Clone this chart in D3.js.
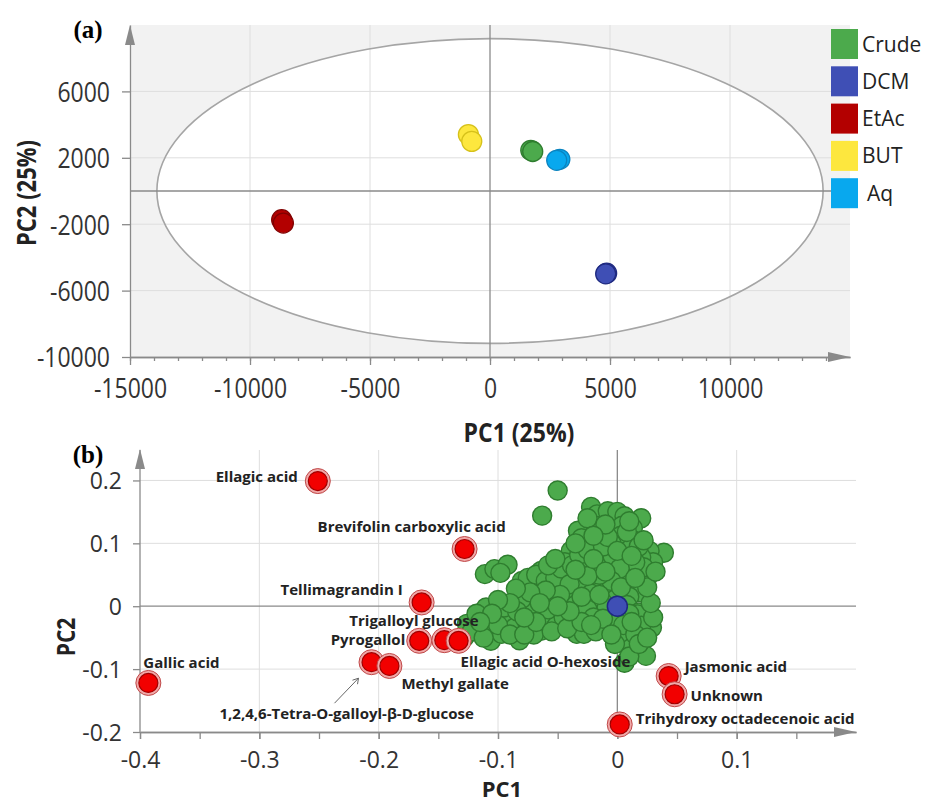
<!DOCTYPE html>
<html>
<head>
<meta charset="utf-8">
<script src="https://cdn.jsdelivr.net/npm/d3@7"></script>
<style>
  body { margin: 0; background: #fff; }
  text { font-family: "Open Sans", sans-serif; }
</style>
</head>
<body>
<svg width="929" height="800"></svg>
<script>
// ---- data (a): PCA scores of the extracts ----
const groups = ["Crude", "DCM", "EtAc", "BUT", "Aq"];
const scoreGroup = ["EtAc", "EtAc", "BUT", "BUT", "Crude", "Crude", "Aq", "Aq", "DCM", "DCM"];
const scorePC1 = [-8680, -8610, -900, -760, 1700, 1780, 2910, 2780, 4860, 4820];
const scorePC2 = [-1730, -1930, 3400, 2990, 2450, 2380, 1910, 1850, -4950, -4990];
const ellipseRx = 13880, ellipseRy = 9180;   // Hotelling T2 ellipse
const xTicksA = [-15000, -10000, -5000, 0, 5000, 10000];
const yTicksA = [-10000, -6000, -2000, 2000, 6000];

// ---- data (b): loadings ----
const compounds = ["Ellagic acid", "Brevifolin carboxylic acid", "Tellimagrandin I", "Pyrogallol",
  "Trigalloyl glucose", "Ellagic acid O-hexoside", "1,2,4,6-Tetra-O-galloyl-β-D-glucose", "Methyl gallate",
  "Gallic acid", "Jasmonic acid", "Unknown", "Trihydroxy octadecenoic acid"];
const compPC1 = [-0.251, -0.128, -0.164, -0.166, -0.145, -0.133, -0.206, -0.191, -0.393, 0.043, 0.048, 0.002];
const compPC2 = [0.199, 0.091, 0.006, -0.055, -0.054, -0.055, -0.089, -0.095, -0.122, -0.111, -0.140, -0.188];
// other metabolites (green)
const metabolites = [
  [-0.050, 0.184], [-0.063, 0.144], [-0.022, 0.158], [-0.017, 0.146], [-0.008, 0.151], [0.000, 0.150],
  [0.006, 0.143], [0.020, 0.140], [0.013, 0.124], [0.004, 0.128], [-0.018, 0.128], [-0.033, 0.120],
  [-0.030, 0.108], [0.003, 0.112], [0.014, 0.104], [-0.005, 0.100],
  [0.039, 0.085], [0.027, 0.088], [0.030, 0.070], [0.020, 0.078], [0.010, 0.090], [0.006, 0.072], [0.017, 0.055],
  [-0.039, 0.088], [-0.022, 0.098], [-0.016, 0.088], [-0.028, 0.075], [-0.044, 0.070], [-0.018, 0.064],
  [-0.010, 0.068], [-0.004, 0.080], [-0.003, 0.050], [-0.028, 0.060], [-0.044, 0.051], [-0.055, 0.055],
  [-0.064, 0.056], [-0.035, 0.045], [-0.022, 0.036], [-0.030, 0.030], [-0.012, 0.035], [-0.008, 0.025],
  [0.012, 0.035], [0.008, 0.050], [0.025, 0.045], [0.020, 0.022], [0.010, 0.015], [-0.001, 0.012],
  [-0.013, 0.008], [-0.022, 0.020], [-0.041, 0.014], [-0.050, 0.030], [-0.055, 0.008], [-0.066, 0.019],
  [-0.080, 0.040], [-0.070, 0.032], [-0.035, 0.002], [-0.025, -0.005], [-0.009, -0.003], [0.008, 0.002],
  [0.018, -0.010],
  [-0.111, 0.051], [-0.103, 0.059], [-0.092, 0.066], [-0.098, 0.053],
  [-0.128, -0.049], [-0.126, -0.028], [-0.116, -0.039], [-0.108, -0.023], [-0.106, -0.055], [-0.097, -0.044],
  [-0.093, -0.020], [-0.086, -0.034], [-0.082, -0.054], [-0.075, -0.031], [-0.072, -0.008], [-0.064, -0.039],
  [-0.060, -0.015], [-0.051, -0.031], [-0.047, -0.004], [-0.039, -0.022], [-0.034, -0.044], [-0.028, -0.044],
  [-0.110, -0.002], [-0.095, -0.002], [-0.080, 0.012], [-0.084, -0.008], [-0.070, -0.045], [-0.058, -0.005],
  [-0.045, -0.018], [-0.020, -0.018],
  [-0.008, -0.034], [0.003, -0.050], [0.012, -0.066], [0.006, -0.090], [0.024, -0.079], [0.017, -0.013],
  [0.029, -0.034], [0.020, -0.031], [0.010, -0.012], [0.000, -0.020], [-0.002, -0.060], [0.030, -0.018],
  [-0.075, 0.045], [-0.068, 0.050], [-0.060, 0.040], [-0.052, 0.045], [-0.047, 0.060], [-0.038, 0.065],
  [-0.032, 0.082], [-0.025, 0.090], [-0.012, 0.095], [-0.008, 0.110], [0.008, 0.118], [0.018, 0.095],
  [0.022, 0.062], [0.015, 0.070], [0.002, 0.060], [-0.005, 0.040], [-0.015, 0.050], [-0.025, 0.048],
  [-0.040, 0.035], [-0.048, 0.018], [-0.060, 0.025], [-0.073, 0.022], [-0.085, 0.028], [-0.090, 0.005],
  [-0.100, 0.010], [-0.118, -0.012], [-0.122, -0.040], [-0.112, -0.050], [-0.100, -0.030], [-0.090, -0.045],
  [-0.078, -0.045], [-0.068, -0.025], [-0.055, -0.040], [-0.042, -0.035], [-0.030, -0.025], [-0.018, -0.040],
  [-0.012, -0.020], [0.005, -0.030], [0.015, -0.045], [0.010, -0.080], [0.018, -0.060], [0.025, -0.050],
  [0.028, 0.005], [0.025, 0.030], [0.032, 0.055], [0.003, 0.030], [-0.030, 0.015], [-0.040, -0.008],
  [-0.050, 0.000], [-0.065, 0.005], [-0.078, -0.018], [-0.105, -0.012], [-0.115, -0.025], [-0.025, 0.140],
  [-0.010, 0.130], [0.010, 0.135], [0.022, 0.105], [-0.035, 0.100], [-0.020, 0.112], [0.000, 0.088],
  [-0.058, 0.065], [-0.052, 0.075], [-0.020, 0.075], [0.012, 0.080], [-0.010, 0.055], [0.015, 0.045],
  [-0.035, 0.058], [-0.015, 0.018], [0.000, 0.000], [0.012, -0.025], [-0.022, -0.030], [-0.005, -0.045]
];
const centerPoint = [0, 0];
const xTicksB = [-0.4, -0.3, -0.2, -0.1, 0, 0.1];
const yTicksB = [-0.2, -0.1, 0, 0.1, 0.2];

// styles
const groupFill = { Crude: "#4caa4c", DCM: "#3f4fb5", EtAc: "#b30000", BUT: "#fde73e", Aq: "#08a8ee" };
const groupStroke = { Crude: "#2f7d2f", DCM: "#1f2a80", EtAc: "#800000", BUT: "#d6c11a", Aq: "#0a84c0" };
// label placement: [dx, dy, anchor] relative to point
const labelPos = {
  "Ellagic acid": [-20, 1, "end"],
  "Brevifolin carboxylic acid": [-147, -17, "start"],
  "Tellimagrandin I": [-19, -7, "end"],
  "Pyrogallol": [-14, 4, "end"],
  "Trigalloyl glucose": [-95, -14, "start"],
  "Ellagic acid O-hexoside": [2, 26, "start"],
  "1,2,4,6-Tetra-O-galloyl-β-D-glucose": [-152, 57, "start"],
  "Methyl gallate": [12, 23, "start"],
  "Gallic acid": [-5, -15, "start"],
  "Jasmonic acid": [16, -4, "start"],
  "Unknown": [16, 7, "start"],
  "Trihydroxy octadecenoic acid": [16, 0, "start"]
};

const svg = d3.select("svg");
const axisGray = "#8a8a8a", gridGray = "#dedede";
const plain = d => String(+(+d).toFixed(1));   // hyphen minus, no thousands separator

function arrowUp(g, x, y) {
  g.append("path").attr("d", `M${x},${y} L${x-5},${y+20} L${x+5},${y+20} Z`).attr("fill", axisGray);
}
function arrowRight(g, x, y) {
  g.append("path").attr("d", `M${x},${y} L${x-22},${y-5} L${x-22},${y+5} Z`).attr("fill", axisGray);
}

// ================= panel (a) =================
const xA = d3.scaleLinear().domain([-15000, 15000]).range([130, 850]);
const yA = d3.scaleLinear().domain([-10000, 10000]).range([357, 25]);
const gA = svg.append("g");

gA.append("rect").attr("x", xA(-15000)).attr("y", yA(10000))
  .attr("width", xA(15000) - xA(-15000)).attr("height", yA(-10000) - yA(10000))
  .attr("fill", "#f2f2f2");
gA.append("ellipse").attr("cx", xA(0)).attr("cy", yA(0))
  .attr("rx", xA(ellipseRx) - xA(0)).attr("ry", yA(0) - yA(ellipseRy))
  .attr("fill", "#fff");

gA.selectAll("line.gx").data(xTicksA.filter(d => d > -15000 && d !== 0)).enter().append("line")
  .attr("x1", d => xA(d)).attr("x2", d => xA(d)).attr("y1", yA(10000)).attr("y2", yA(-10000))
  .attr("stroke", gridGray);
gA.selectAll("line.gy").data(yTicksA.filter(d => d > -10000)).enter().append("line")
  .attr("y1", d => yA(d)).attr("y2", d => yA(d)).attr("x1", xA(-15000)).attr("x2", xA(15000))
  .attr("stroke", gridGray);
gA.append("ellipse").attr("cx", xA(0)).attr("cy", yA(0))
  .attr("rx", xA(ellipseRx) - xA(0)).attr("ry", yA(0) - yA(ellipseRy))
  .attr("fill", "none").attr("stroke", "#a5a5a5").attr("stroke-width", 1.6);
gA.append("line").attr("x1", xA(0)).attr("x2", xA(0)).attr("y1", yA(10000)).attr("y2", yA(-10000))
  .attr("stroke", axisGray).attr("stroke-width", 1.3);
gA.append("line").attr("x1", xA(-15000)).attr("x2", xA(15000)).attr("y1", yA(0)).attr("y2", yA(0))
  .attr("stroke", axisGray).attr("stroke-width", 1.3);

// minor x ticks
gA.append("g").attr("transform", `translate(0,${yA(-10000)})`)
  .call(d3.axisBottom(xA).tickValues(d3.range(-15000, 14001, 1000)).tickSize(4).tickSizeOuter(0).tickFormat(""))
  .call(g => g.selectAll("line,path").attr("stroke", axisGray).attr("stroke-width", 1.3));
// major x ticks
gA.append("g").attr("transform", `translate(0,${yA(-10000)})`)
  .call(d3.axisBottom(xA).tickValues(xTicksA).tickSize(8).tickSizeOuter(0).tickFormat(plain))
  .call(g => g.selectAll("line,path").attr("stroke", axisGray).attr("stroke-width", 1.3))
  .call(g => g.selectAll("text").attr("y", null).attr("dy", "0.36em")
    .attr("transform", "translate(0,31) scale(1,1.2)")
    .attr("font-size", 23).attr("fill", "#333").style("font-family", "Open Sans"));
gA.append("g").attr("transform", `translate(${xA(-15000)},0)`)
  .call(d3.axisLeft(yA).tickValues(yTicksA).tickSize(8).tickSizeOuter(0).tickFormat(plain))
  .call(g => g.selectAll("line,path").attr("stroke", axisGray).attr("stroke-width", 1.3))
  .call(g => g.selectAll("text").attr("x", null).attr("dy", "0.36em")
    .attr("transform", "translate(-20,0) scale(1,1.2)")
    .attr("font-size", 23).attr("fill", "#333").style("font-family", "Open Sans"));
arrowUp(gA, xA(-15000), 25);
arrowRight(gA, 850, yA(-10000));

// score points
gA.selectAll("circle.score").data(scorePC1).enter().append("circle")
  .attr("cx", d => xA(d)).attr("cy", (d, i) => yA(scorePC2[i])).attr("r", 10)
  .attr("fill", (d, i) => groupFill[scoreGroup[i]])
  .attr("stroke", (d, i) => groupStroke[scoreGroup[i]]).attr("stroke-width", 1.3);

// legend
const leg = gA.selectAll("g.leg").data(groups).enter().append("g")
  .attr("transform", (d, i) => `translate(831,${29 + i * 37.3})`);
leg.append("rect").attr("width", 27).attr("height", 30).attr("fill", d => groupFill[d]);
leg.append("text").attr("x", d => d === "Aq" ? 36 : 31).attr("y", 15).attr("dy", "0.36em")
  .attr("font-size", 21).attr("fill", "#222").text(d => d);

// titles
svg.append("text").attr("transform", "translate(519,432) scale(1,1.18)").attr("dy", "0.36em")
  .attr("text-anchor", "middle").attr("font-size", 23).attr("font-weight", "bold").attr("fill", "#222")
  .text("PC1 (25%)");
svg.append("text").attr("transform", "translate(27,193) rotate(-90) scale(1,1.18)").attr("dy", "0.36em")
  .attr("text-anchor", "middle").attr("font-size", 22).attr("font-weight", "bold").attr("fill", "#222")
  .text("PC2 (25%)");
svg.append("text").attr("x", 88).attr("y", 38).attr("text-anchor", "middle")
  .style("font-family", "Liberation Serif").attr("font-size", 25).attr("font-weight", "bold").text("(a)");

// ================= panel (b) =================
const xB = d3.scaleLinear().domain([-0.4, 0.2]).range([140, 856]);
const yB = d3.scaleLinear().domain([-0.2, 0.25]).range([732, 449]);
const gB = svg.append("g");

gB.selectAll("line.gx").data(xTicksB.filter(d => d > -0.4 && d !== 0)).enter().append("line")
  .attr("x1", d => xB(d)).attr("x2", d => xB(d)).attr("y1", 450).attr("y2", yB(-0.2))
  .attr("stroke", gridGray);
gB.selectAll("line.gy").data(yTicksB.filter(d => d > -0.2 && d !== 0)).enter().append("line")
  .attr("y1", d => yB(d)).attr("y2", d => yB(d)).attr("x1", xB(-0.4)).attr("x2", xB(0.2))
  .attr("stroke", gridGray);
gB.append("line").attr("x1", xB(0)).attr("x2", xB(0)).attr("y1", 450).attr("y2", yB(-0.2))
  .attr("stroke", axisGray).attr("stroke-width", 1.3);
gB.append("line").attr("x1", xB(-0.4)).attr("x2", xB(0.2)).attr("y1", yB(0)).attr("y2", yB(0))
  .attr("stroke", axisGray).attr("stroke-width", 1.3);

gB.append("g").attr("transform", `translate(0,${yB(-0.2)})`)
  .call(d3.axisBottom(xB).tickValues(d3.range(-0.4, 0.16, 0.05)).tickSize(7).tickSizeOuter(0).tickFormat(""))
  .call(g => g.selectAll("line,path").attr("stroke", axisGray).attr("stroke-width", 1.3));
gB.append("g").attr("transform", `translate(0,${yB(-0.2)})`)
  .call(d3.axisBottom(xB).tickValues(xTicksB).tickSize(7).tickSizeOuter(0).tickFormat(plain))
  .call(g => g.selectAll("line,path").attr("stroke", axisGray).attr("stroke-width", 1.3))
  .call(g => g.selectAll("text").attr("y", 28).attr("dy", "0.36em")
    .attr("font-size", 23).attr("fill", "#333").style("font-family", "Open Sans"));
gB.append("g").attr("transform", `translate(${xB(-0.4)},0)`)
  .call(d3.axisLeft(yB).tickValues(yTicksB).tickSize(7).tickSizeOuter(0).tickFormat(plain))
  .call(g => g.selectAll("path").attr("d", `M0,${yB(-0.2)}V450`))
  .call(g => g.selectAll("line,path").attr("stroke", axisGray).attr("stroke-width", 1.3))
  .call(g => g.selectAll("text").attr("x", -18).attr("dy", "0.36em")
    .attr("font-size", 23).attr("fill", "#333").style("font-family", "Open Sans"));
arrowUp(gB, xB(-0.4), 449);
arrowRight(gB, 856, yB(-0.2));

// green metabolites
gB.selectAll("circle.met").data(metabolites).enter().append("circle")
  .attr("cx", d => xB(d[0])).attr("cy", d => yB(d[1])).attr("r", 9.5)
  .attr("fill", "#4caa4c").attr("stroke", "#2f7d2f").attr("stroke-width", 1.4);
gB.append("circle").attr("cx", xB(centerPoint[0])).attr("cy", yB(centerPoint[1])).attr("r", 10)
  .attr("fill", "#3f4fb5").attr("stroke", "#1f2a80").attr("stroke-width", 1.5);

// highlighted compounds
const comp = gB.selectAll("g.comp").data(compounds).enter().append("g")
  .attr("transform", (d, i) => `translate(${xB(compPC1[i])},${yB(compPC2[i])})`);
comp.append("circle").attr("r", 12.5).attr("fill", "#f0a8a8").attr("stroke", "#c04848").attr("stroke-width", 1);
comp.append("circle").attr("r", 9.5).attr("fill", "#f20000").attr("stroke", "#a00000").attr("stroke-width", 1.2);

// arrow for the tetragalloyl glucose label
const iT = compounds.indexOf("1,2,4,6-Tetra-O-galloyl-β-D-glucose");
const tx = xB(compPC1[iT]), ty = yB(compPC2[iT]);
gB.append("line").attr("x1", tx - 37).attr("y1", ty + 41).attr("x2", tx - 13).attr("y2", ty + 16)
  .attr("stroke", "#666").attr("stroke-width", 1);
gB.append("path").attr("d", `M${tx-19},${ty+18} L${tx-13},${ty+16} L${tx-14},${ty+22}`)
  .attr("fill", "none").attr("stroke", "#666").attr("stroke-width", 1);

comp.append("text")
  .attr("x", d => labelPos[d][0]).attr("y", d => labelPos[d][1])
  .attr("text-anchor", d => labelPos[d][2])
  .attr("font-size", 15).attr("font-weight", "bold").attr("fill", "#222")
  .text(d => d);

svg.append("text").attr("x", 502).attr("y", 797).attr("text-anchor", "middle")
  .attr("font-size", 22).attr("font-weight", "bold").attr("fill", "#222").text("PC1");
svg.append("text").attr("transform", "translate(66,637) rotate(-90) scale(1,1.15)").attr("dy", "0.36em")
  .attr("text-anchor", "middle").attr("font-size", 21).attr("font-weight", "bold").attr("fill", "#222")
  .text("PC2");
svg.append("text").attr("x", 88).attr("y", 463).attr("text-anchor", "middle")
  .style("font-family", "Liberation Serif").attr("font-size", 25).attr("font-weight", "bold").text("(b)");
</script>
</body>
</html>
